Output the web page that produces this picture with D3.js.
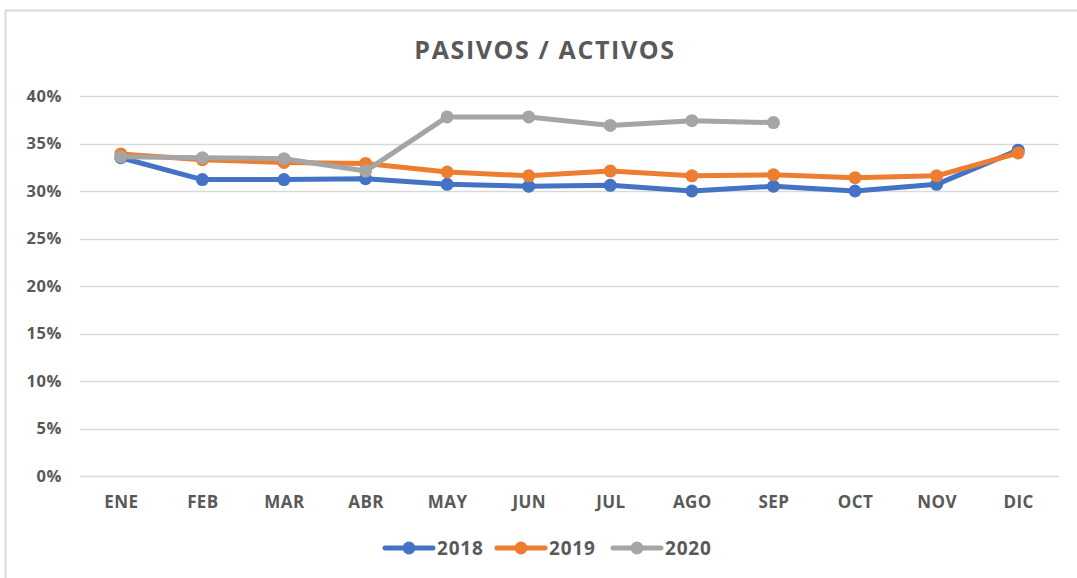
<!DOCTYPE html>
<html>
<head>
<meta charset="utf-8">
<script src="https://cdn.jsdelivr.net/npm/d3@7"></script>
<style>
  body { margin: 0; background: #ffffff; overflow: hidden; }
  text { font-family: "Open Sans", "Liberation Sans", sans-serif; font-weight: 700; fill: #595959; }
</style>
</head>
<body>
<script>

//Month Categories.
var months = ["ENE", "FEB", "MAR", "ABR", "MAY", "JUN", "JUL", "AGO", "SEP", "OCT", "NOV", "DIC"];

//Series Values (as fractions).
var values2018 = [0.335, 0.312, 0.312, 0.313, 0.307, 0.305, 0.306, 0.300, 0.305, 0.300, 0.307, 0.343];
var values2019 = [0.339, 0.333, 0.330, 0.329, 0.320, 0.316, 0.321, 0.316, 0.317, 0.314, 0.316, 0.340];
var values2020 = [0.336, 0.335, 0.334, 0.321, 0.378, 0.378, 0.369, 0.374, 0.372];

//Series Names and Colours.
var seriesNames = ["2018", "2019", "2020"];
var seriesColors = ["#4472C4", "#ED7D31", "#A5A5A5"];

//Y Axis Ticks.
var yTicks = [0, 0.05, 0.10, 0.15, 0.20, 0.25, 0.30, 0.35, 0.40];

//Chart Title.
var chartTitle = "PASIVOS / ACTIVOS";

//Main Function.
function mainFunction() {

  var width = 1077;
  var height = 578;

  //Plot Area Margins.
  var left = 80;
  var right = 1059;
  var top = 96;
  var bottom = 476;

  var svg = d3.select("body").append("svg").attr("width", width).attr("height", height);

  //Outer Chart Border (only top and left show in the picture).
  svg.append("line").attr("x1", 5).attr("y1", 10.5).attr("x2", width).attr("y2", 10.5)
     .attr("stroke", "#D9D9D9").attr("stroke-width", 2);
  svg.append("line").attr("x1", 5.5).attr("y1", 10).attr("x2", 5.5).attr("y2", height)
     .attr("stroke", "#D9D9D9").attr("stroke-width", 2);

  //Scales.
  var xScale = d3.scalePoint().domain(months).range([left, right]).padding(0.5);
  var yScale = d3.scaleLinear().domain([0, 0.4]).range([bottom, top]);

  //Title.
  svg.append("text")
     .attr("x", 545)
     .attr("y", 59)
     .attr("text-anchor", "middle")
     .style("font-size", "25px")
     .style("letter-spacing", "1.6px")
     .text(chartTitle);

  //Gridlines.
  svg.append("g").selectAll("line").data(yTicks).enter().append("line")
     .attr("x1", left).attr("x2", right)
     .attr("y1", function(d) { return Math.round(yScale(d)) + 0.5; })
     .attr("y2", function(d) { return Math.round(yScale(d)) + 0.5; })
     .attr("stroke", "#D9D9D9").attr("stroke-width", 1.5);

  //Y Axis (labels only).
  var yAxis = d3.axisLeft(yScale).tickValues(yTicks).tickSize(0).tickPadding(0)
                .tickFormat(d3.format(".0%"));
  var yG = svg.append("g").attr("transform", "translate(62,0)").call(yAxis);
  yG.select(".domain").remove();
  yG.selectAll("text").style("font-size", "16.5px").style("letter-spacing", "0.6px")
    .attr("font-family", null).attr("fill", "#595959");

  //X Axis (labels only).
  var xAxis = d3.axisBottom(xScale).tickSize(0).tickPadding(0);
  var xG = svg.append("g").attr("transform", "translate(0,496)").call(xAxis);
  xG.select(".domain").remove();
  xG.selectAll("text").style("font-size", "17px").style("letter-spacing", "0.4px")
    .attr("font-family", null).attr("fill", "#595959");

  //Drawing Series.
  var allSeries = [values2018, values2019, values2020];
  var line = d3.line()
               .x(function(d, i) { return xScale(months[i]); })
               .y(function(d) { return yScale(d); });

  allSeries.forEach(function(vals, s) {
    var g = svg.append("g");
    g.append("path").datum(vals)
     .attr("d", line)
     .attr("fill", "none")
     .attr("stroke", seriesColors[s])
     .attr("stroke-width", 5)
     .attr("stroke-linejoin", "round")
     .attr("stroke-linecap", "round");
    g.selectAll("circle").data(vals).enter().append("circle")
     .attr("cx", function(d, i) { return xScale(months[i]); })
     .attr("cy", function(d) { return yScale(d); })
     .attr("r", 6.5)
     .attr("fill", seriesColors[s]);
  });

  //Legend.
  var legendX = [385, 497, 613];
  seriesNames.forEach(function(name, s) {
    var lg = svg.append("g").attr("transform", "translate(" + legendX[s] + ",548)");
    lg.append("line").attr("x1", 0).attr("x2", 48).attr("y1", 0).attr("y2", 0)
      .attr("stroke", seriesColors[s]).attr("stroke-width", 5).attr("stroke-linecap", "round");
    lg.append("circle").attr("cx", 24).attr("cy", 0).attr("r", 6.5).attr("fill", seriesColors[s]);
    lg.append("text").attr("x", 52).attr("y", 7).style("font-size", "19px")
      .style("letter-spacing", "0.8px").text(name);
  });

};//End of Main Function.

mainFunction();

</script>
</body>
</html>
